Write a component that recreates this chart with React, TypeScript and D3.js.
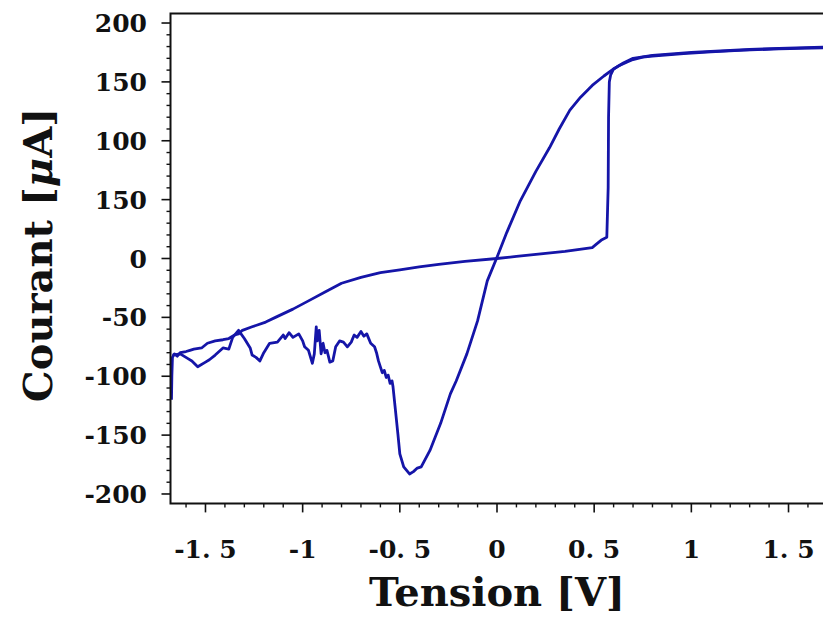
import React from "react";
import * as d3 from "d3";

// Forward sweep (voltage increasing)
const forwardV = [-1.675, -1.673, -1.67, -1.66, -1.645, -1.63, -1.6, -1.58, -1.56, -1.52, -1.49, -1.45, -1.41, -1.38, -1.35, -1.33, -1.31, -1.26, -1.19, -1.14, -1.05, -0.97, -0.88, -0.8, -0.7, -0.6, -0.5, -0.4, -0.3, -0.165, 0, 0.1, 0.2, 0.35, 0.49, 0.51, 0.54, 0.565, 0.572, 0.574, 0.578, 0.585, 0.6, 0.63, 0.67, 0.7, 0.75, 0.8, 0.88, 0.96, 1.1, 1.27, 1.45, 1.68];
const forwardI = [-120, -100, -84, -81, -83, -80, -79, -78, -77, -76, -72, -70, -69, -68, -65, -64, -61, -58, -54, -50, -43, -36, -28, -21, -16, -12, -9.6, -7.2, -5, -2.5, 0, 1.8, 3.5, 6, 9.3, 12, 16, 18, 60, 120, 150, 156, 161, 164, 167, 169, 171, 172, 173, 174, 175.5, 177, 178, 179];

// Reverse sweep (voltage decreasing)
const reverseV = [1.68, 1.45, 1.3, 1.0, 0.8, 0.7, 0.65, 0.6, 0.55, 0.49, 0.43, 0.375, 0.32, 0.27, 0.2, 0.12, 0.05, 0, -0.05, -0.1, -0.155, -0.21, -0.24, -0.29, -0.345, -0.39, -0.41, -0.43, -0.45, -0.465, -0.48, -0.5, -0.51, -0.525, -0.535, -0.54, -0.55, -0.56, -0.57, -0.58, -0.59, -0.6, -0.61, -0.62, -0.63, -0.65, -0.67, -0.685, -0.7, -0.72, -0.735, -0.75, -0.77, -0.79, -0.81, -0.83, -0.845, -0.86, -0.875, -0.885, -0.895, -0.905, -0.915, -0.925, -0.93, -0.94, -0.95, -0.97, -0.99, -1.0, -1.02, -1.05, -1.07, -1.09, -1.1, -1.13, -1.17, -1.2, -1.22, -1.24, -1.26, -1.27, -1.3, -1.33, -1.36, -1.38, -1.41, -1.45, -1.48, -1.5, -1.54, -1.57, -1.59, -1.63, -1.67];
const reverseI = [179.5, 178.5, 177.5, 175, 172.5, 170, 166, 161, 155, 147, 137, 126, 110, 94, 74, 49, 22, 1, -19, -53, -81, -104, -115, -140, -163, -177, -178, -181, -183, -180, -177, -166, -149, -125, -109, -104, -106, -99, -101, -95, -97, -92, -87, -80, -75, -72, -64, -66, -62, -67, -65, -71, -75, -71, -70, -75, -87, -88, -78, -80, -72, -81, -61, -70, -58, -81, -89, -78, -75, -70, -64, -67, -63, -68, -65, -71, -72, -80, -87, -84, -82, -76, -68, -61, -67, -77, -76, -82, -86, -88, -92, -87, -85, -81, -82];

const yTickValues = [200, 150, 100, 50, 0, -50, -100, -150, -200];
const yTickLabels = ["200", "150", "100", "150", "0", "-50", "-100", "-150", "-200"];
const xTickValues = [-1.5, -1, -0.5, 0, 0.5, 1, 1.5];
const xTickLabels = ["-1. 5", "-1", "-0. 5", "0", "0. 5", "1", "1. 5"];

const W = 823;
const H = 622;
const LEFT = 170.5;
const RIGHT = 823.5;
const TOP = 13.6;
const BOTTOM = 503.4;

export default function App() {
  const x = d3.scaleLinear().domain([-1.68, 1.68]).range([LEFT, RIGHT]);
  const y = d3.scaleLinear().domain([-208, 208]).range([BOTTOM, TOP]);

  const line = d3
    .line<[number, number]>()
    .x((d) => x(d[0]))
    .y((d) => y(d[1]));

  const fwd: [number, number][] = forwardV.map((v, i) => [v, forwardI[i]]);
  const rev: [number, number][] = reverseV.map((v, i) => [v, reverseI[i]]);

  const yMinor = d3.range(-200, 201, 10).filter((v) => v % 50 !== 0);
  const xMinor = d3.range(-16, 17, 1).map((v) => v / 10).filter((v) => Math.round(v * 10) % 5 !== 0);

  const font = "'DejaVu Serif', serif";
  const color = "#1515a8";

  return (
    <svg
      width={W}
      height={H}
      style={{ position: "absolute", left: 0, top: 0, background: "#fff" }}
      fontFamily={font}
    >
      <rect x={0} y={0} width={W} height={H} fill="#fff" />
      <clipPath id="plotclip">
        <rect x={LEFT} y={TOP} width={RIGHT - LEFT} height={BOTTOM - TOP} />
      </clipPath>
      <g clipPath="url(#plotclip)">
        <path d={line(fwd) || ""} fill="none" stroke={color} strokeWidth={2.8} strokeLinejoin="round" />
        <path d={line(rev) || ""} fill="none" stroke={color} strokeWidth={2.8} strokeLinejoin="round" />
      </g>
      <path
        d={`M${W + 2},${TOP} H${LEFT} V${BOTTOM} H${W + 2}`}
        fill="none"
        stroke="#111"
        strokeWidth={2}
      />
      {/* y ticks */}
      {yTickValues.map((v) => (
        <line key={"ym" + v} x1={LEFT - 9} x2={LEFT} y1={y(v)} y2={y(v)} stroke="#111" strokeWidth={1.6} />
      ))}
      {yMinor.map((v) => (
        <line key={"yn" + v} x1={LEFT - 4} x2={LEFT} y1={y(v)} y2={y(v)} stroke="#111" strokeWidth={1.4} />
      ))}
      {yTickValues.map((v, i) => (
        <text
          key={"yl" + v}
          x={147}
          y={y(v) + 9}
          textAnchor="end"
          fontSize={25}
          fontWeight="bold"
          fill="#111"
        >
          {yTickLabels[i]}
        </text>
      ))}
      {/* x ticks */}
      {xTickValues.map((v) => (
        <line key={"xm" + v} x1={x(v)} x2={x(v)} y1={BOTTOM} y2={BOTTOM + 9} stroke="#111" strokeWidth={1.6} />
      ))}
      {xMinor.map((v) => (
        <line key={"xn" + v} x1={x(v)} x2={x(v)} y1={BOTTOM} y2={BOTTOM + 4} stroke="#111" strokeWidth={1.4} />
      ))}
      {xTickValues.map((v, i) => (
        <text
          key={"xl" + v}
          x={x(v)}
          y={558}
          textAnchor="middle"
          fontSize={25}
          fontWeight="bold"
          fill="#111"
        >
          {xTickLabels[i]}
        </text>
      ))}
      <text x={497} y={606} textAnchor="middle" fontSize={40} fontWeight="bold" fill="#111">
        Tension [V]
      </text>
      <text
        transform={`translate(52,255) rotate(-90)`}
        textAnchor="middle"
        fontSize={40}
        fontWeight="bold"
        fill="#111"
      >
        Courant [<tspan fontStyle="italic">μ</tspan>A]
      </text>
    </svg>
  );
}
